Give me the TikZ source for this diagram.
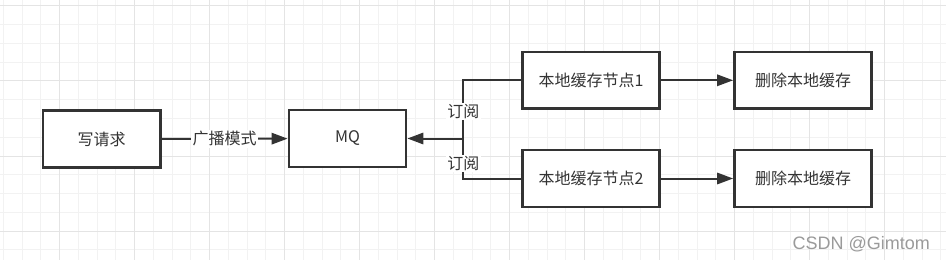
\documentclass[tikz,border=0pt]{standalone}
\usepackage{fontspec}
\setmainfont{Noto Sans CJK SC}
\newfontfamily\markfont{Liberation Sans}
\usetikzlibrary{arrows.meta}
\definecolor{ink}{HTML}{333333}
\definecolor{gridminor}{HTML}{F2F2F2}
\definecolor{gridmajor}{HTML}{E4E4E4}
\definecolor{markgray}{HTML}{9A9A9A}
\tikzset{
  procbox/.style={draw=ink, line width=1.8pt, fill=white, text=ink,
    minimum width=88pt, minimum height=42.5pt, font=\fontsize{12}{14}\selectfont},
  widebox/.style={procbox, minimum width=103pt},
  flow/.style={draw=ink, line width=1.5pt, -{Triangle[length=12pt,width=8.5pt]}},
  link/.style={draw=ink, line width=1.5pt},
  edgelabel/.style={fill=white, text=ink, inner sep=1pt, font=\fontsize{12}{14}\selectfont}
}

\begin{document}
\begin{tikzpicture}[x=0.75pt,y=-0.75pt]
\useasboundingbox (0,0) rectangle (946,260);
\fill[white] (0,0) rectangle (946,260);
% background grid
\foreach \i in {0,...,50}
  \draw[gridminor, line width=0.75pt] ({3.45+18.75*\i},0) -- ++(0,260);
\foreach \j in {0,...,13}
  \draw[gridminor, line width=0.75pt] (0,{6+18.75*\j}) -- ++(946,0);
\foreach \i in {3,7,...,47}
  \draw[gridmajor, line width=0.75pt] ({3.45+18.75*\i},0) -- ++(0,260);
\foreach \j in {0,4,...,12}
  \draw[gridmajor, line width=0.75pt] (0,{6+18.75*\j}) -- ++(946,0);

% boxes
\node[procbox] (req) at (101.7,139) {写请求};
\node[procbox] (mq) at (347.5,138.5) {MQ};
\node[widebox] (cache1) at (591,80.3) {本地缓存节点1};
\node[widebox] (cache2) at (591,178.5) {本地缓存节点2};
\node[widebox] (del1) at (803,80.3) {删除本地缓存};
\node[widebox] (del2) at (803,178.5) {删除本地缓存};
\coordinate (sub) at (463.3,138.5);

% connectors
\draw[flow] (req) -- node[edgelabel] {广播模式} (mq);
\draw[link] (cache1.west) -| node[edgelabel, pos=0.77] {订阅} (sub);
\draw[link] (cache2.west) -| node[edgelabel, pos=0.69] {订阅} (sub);
\draw[flow] (sub) -- (mq.east);
\draw[flow] (cache1) -- (del1);
\draw[flow] (cache2) -- (del2);

\node[anchor=base west, text=markgray, inner sep=0pt,
  font=\markfont\fontsize{13.5}{16}\selectfont] (mark) at (792.3,249.5) {CSDN @Gimtom};
\end{tikzpicture}
\end{document}
